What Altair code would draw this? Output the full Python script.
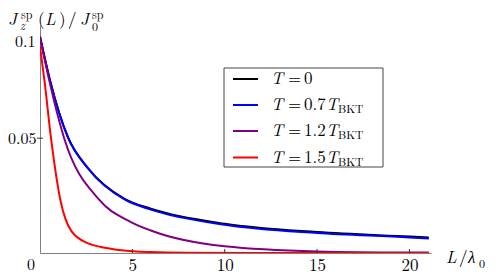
import altair as alt
import pandas as pd

# ---------------- data ----------------
series_names = ["T=0", "T=0.7", "T=1.2", "T=1.5"]
series_colors = ["#000000", "#0000ff", "#800080", "#ff0000"]

L_t00 = [0, 0.53, 1.52, 2.6, 4.6, 6.0, 10, 15, 20, 21.05]
J_t00 = [0.0942, 0.0756, 0.0503, 0.0370, 0.0235, 0.0193, 0.0127, 0.0091, 0.0072, 0.0068]

L_t07 = [0, 0.53, 1.52, 2.6, 4.6, 6.0, 10, 15, 20, 21.05]
J_t07 = [0.0942, 0.0755, 0.0502, 0.0368, 0.0232, 0.0189, 0.0123, 0.0087, 0.0068, 0.0063]

L_t12 = [0, 0.49, 1.3, 3.2, 4.9, 6.0, 10, 15, 20, 21.05]
J_t12 = [0.0942, 0.0755, 0.0502, 0.0232, 0.0136, 0.0098, 0.0029, 0.0007, 0.0002, 0.00017]

L_t15 = [0, 0.25, 0.6, 1.1, 1.7, 2.6, 3.3, 4.4, 6, 8, 12, 21.05]
J_t15 = [0.090, 0.0745, 0.0498, 0.0232, 0.0095, 0.0042, 0.0026, 0.0012, 0.0004, 0.0001, 0.0, 0.0]

x_ticks = [5, 10, 15, 20]
y_ticks = [0.05]
legend_values = ["0", "0.7", "1.2", "1.5"]

# ---------------- layout ----------------
W, H = 391, 228
X_MAX, Y_MAX = 21.17, 0.0993
FONT = "Latin Modern Roman"

xs = alt.Scale(domain=[0, X_MAX], nice=False, zero=False)
ys = alt.Scale(domain=[0, Y_MAX], nice=False)

xaxis = alt.Axis(values=x_ticks, grid=False, ticks=False, domainColor="#808080",
                 domainWidth=1, labelFont=FONT, labelFontSize=17, labelColor="black",
                 labelPadding=4, title=None, labelFlush=False, format="d")
yaxis = alt.Axis(values=y_ticks, grid=False, ticks=False, domainColor="#808080",
                 domainWidth=1, labelFont=FONT, labelFontSize=16, labelColor="black",
                 labelPadding=4, title=None, labelFlush=False, format=".2f")

layers = []
for color, Ls, Js in zip(series_colors,
                         [L_t00, L_t07, L_t12, L_t15],
                         [J_t00, J_t07, J_t12, J_t15]):
    df = pd.DataFrame({"L": Ls, "J": Js})
    layers.append(
        alt.Chart(df).mark_line(color=color, strokeWidth=2, interpolate="monotone", clip=True)
        .encode(x=alt.X("L:Q", scale=xs, axis=xaxis), y=alt.Y("J:Q", scale=ys, axis=yaxis))
    )

# inward tick marks
layers.append(
    alt.Chart(pd.DataFrame({"v": x_ticks})).mark_rule(color="#333333", strokeWidth=1)
    .encode(x=alt.X("v:Q", scale=xs, axis=xaxis), y=alt.value(H - 4), y2=alt.value(H))
)
layers.append(
    alt.Chart(pd.DataFrame({"v": y_ticks})).mark_rule(color="#333333", strokeWidth=1)
    .encode(y=alt.Y("v:Q", scale=ys, axis=yaxis), x=alt.value(-3), x2=alt.value(3))
)

# legend box
layers.append(
    alt.Chart(pd.DataFrame({"a": [0]})).mark_rect(fill="white", stroke="#444444", strokeWidth=1)
    .encode(x=alt.value(184), x2=alt.value(343), y=alt.value(43), y2=alt.value(142))
)
row_y = [54, 80, 106, 132.5]
layers.append(
    alt.Chart(pd.DataFrame({"y": row_y, "c": series_colors})).mark_rule(strokeWidth=2)
    .encode(y=alt.Y("y:Q", scale=None, axis=None), x=alt.value(193), x2=alt.value(218),
            color=alt.Color("c:N", scale=None, legend=None))
)

# text pieces (math-style typesetting): (x, y, text)
it17, up17, up16, up12, it12, up11 = [], [], [], [], [], []
# y title  J_z^sp(L)/J_0^sp
it17 += [(-32, 0, "J"), (5, 0, "L"), (40, 0, "J")]
up17 += [(-2, 0, "("), (19, 0, ")"), (28, 0, "/")]
up12 += [(-19, -6, "sp"), (52, -6, "sp"), (52, 6, "0")]
it12 += [(-20, 5, "z")]
# x title  L/lambda_0
it17 += [(406, 238, "L"), (428, 238, "λ")]
up17 += [(419, 238, "/")]
up12 += [(439, 243, "0")]
# extra tick labels
up16 += [(-25, 22, "0.1"), (-13, 245, "0")]
# legend labels
for i, (s, v) in enumerate(zip(row_y, legend_values)):
    it17.append((231, s + 5, "T"))
    up17.append((248, s + 5, "="))
    up17.append((264, s + 5, v))
    if i > 0:
        it17.append((286, s + 5, "T"))
        up11.append((298, s + 8, "BKT"))


def text_layer(items, style, size):
    df = pd.DataFrame(items, columns=["x", "y", "t"])
    return alt.Chart(df).mark_text(align="left", baseline="alphabetic", font=FONT,
                                   fontStyle=style, fontSize=size, color="black").encode(
        x=alt.X("x:Q", scale=None, axis=None),
        y=alt.Y("y:Q", scale=None, axis=None),
        text="t:N",
    )


layers.append(text_layer(it17, "italic", 17))
layers.append(text_layer(up17, "normal", 17))
layers.append(text_layer(up16, "normal", 16))
layers.append(text_layer(up12, "normal", 12))
layers.append(text_layer(it12, "italic", 12))
layers.append(text_layer(up11, "normal", 11.5))

chart = alt.layer(*layers).properties(
    width=W, height=H,
    autosize=alt.AutoSizeParams(type="none"),
    padding={"left": 32, "top": 17, "right": 59, "bottom": 19},
).configure_view(stroke=None)

chart.save("out.html", embed_options={"renderer": "svg", "actions": False})
